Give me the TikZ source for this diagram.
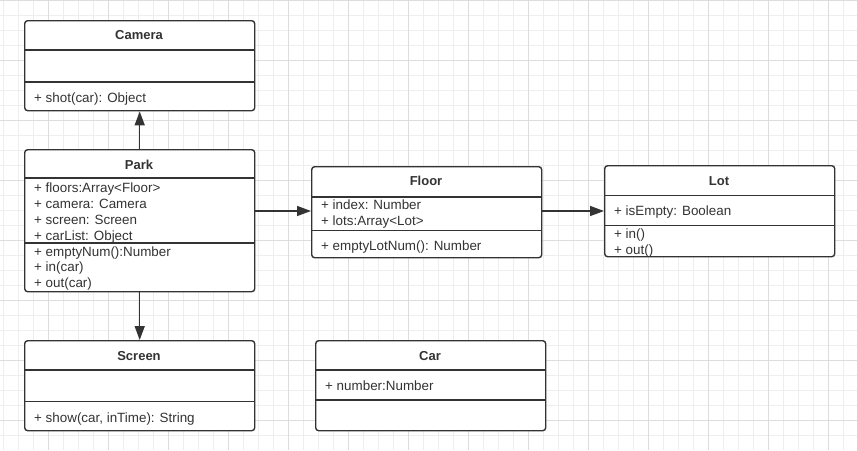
\documentclass[tikz,border=0pt]{standalone}
\usepackage{fontspec}
\setmainfont{Liberation Sans}
\usetikzlibrary{arrows.meta}
\definecolor{ink}{HTML}{333333}
\definecolor{gridminor}{HTML}{EEEEEE}
\definecolor{gridmajor}{HTML}{DDDDDD}
\tikzset{
  cls/.style={draw=ink, line width=1.4pt, rounded corners=3pt, fill=white, inner sep=0pt, anchor=north west},
  divline/.style={draw=ink, line width=1.4pt},
  ttl/.style={font=\fontsize{13}{15}\selectfont\bfseries, text=ink, inner sep=0pt, anchor=base},
  mem/.style={font=\fontsize{13.4}{16}\selectfont, text=ink, inner sep=0pt, anchor=base west},
  conn/.style={draw=ink, line width=1.5pt, -{Triangle[length=14pt,width=10pt]}},
}
\begin{document}
\begin{tikzpicture}[x=1pt,y=-1pt]
\useasboundingbox (0,0) rectangle (857,450);
\fill[white] (0,0) rectangle (857,450);
% grid
\foreach \gx in {3,18,...,857} \draw[gridminor, line width=0.8pt] (\gx,0) -- (\gx,450);
\foreach \gy in {0.5,15.5,...,450} \draw[gridminor, line width=0.8pt] (0,\gy) -- (857,\gy);
\foreach \gx in {48,108,...,857} \draw[gridmajor, line width=0.9pt] (\gx,0) -- (\gx,450);
\foreach \gy in {0.5,60.5,...,450} \draw[gridmajor, line width=0.9pt] (0,\gy) -- (857,\gy);

% Camera
\node[cls, minimum width=230pt, minimum height=90pt] (camera) at (24,20) {};
\draw[divline] (24,50) -- (254,50);
\draw[divline] (24,82) -- (254,82);
\node[ttl] (cameraT) at (139,39.7) {Camera};
\node[mem] (cameraM1) at (34,102) {+ shot(car): Object};

% Park
\node[cls, minimum width=230pt, minimum height=142pt] (park) at (24,149) {};
\draw[divline] (24,178) -- (254,178);
\draw[divline] (24,243) -- (254,243);
\node[ttl] (parkT) at (139,169) {Park};
\node[mem] (parkA1) at (34,192.5) {+ floors:Array<Floor>};
\node[mem] (parkA2) at (34,208) {+ camera: Camera};
\node[mem] (parkA3) at (34,224) {+ screen: Screen};
\node[mem] (parkA4) at (34,240) {+ carList: Object};
\node[mem] (parkM1) at (34,256) {+ emptyNum():Number};
\node[mem] (parkM2) at (34,271.8) {+ in(car)};
\node[mem] (parkM3) at (34,287.5) {+ out(car)};

% Floor
\node[cls, minimum width=230pt, minimum height=91pt] (floor) at (311,166) {};
\draw[divline] (311,197) -- (541,197);
\draw[divline] (311,230.3) -- (541,230.3);
\node[ttl] (floorT) at (426,185.7) {Floor};
\node[mem] (floorA1) at (321,209.5) {+ index: Number};
\node[mem] (floorA2) at (321,225) {+ lots:Array<Lot>};
\node[mem] (floorM1) at (321,250) {+ emptyLotNum(): Number};

% Lot
\node[cls, minimum width=230pt, minimum height=91pt] (lot) at (604,165) {};
\draw[divline] (604,195.7) -- (834,195.7);
\draw[divline] (604,225.3) -- (834,225.3);
\node[ttl] (lotT) at (719,185.4) {Lot};
\node[mem] (lotA1) at (614,215) {+ isEmpty: Boolean};
\node[mem] (lotM1) at (614,238.4) {+ in()};
\node[mem] (lotM2) at (614,254.4) {+ out()};

% Screen
\node[cls, minimum width=230pt, minimum height=90pt] (screen) at (24,340) {};
\draw[divline] (24,370) -- (254,370);
\draw[divline] (24,401.7) -- (254,401.7);
\node[ttl] (screenT) at (139,360.4) {Screen};
\node[mem] (screenM1) at (34,422) {+ show(car, inTime): String};

% Car
\node[cls, minimum width=230pt, minimum height=90pt] (car) at (315,340) {};
\draw[divline] (315,370) -- (545,370);
\draw[divline] (315,400) -- (545,400);
\node[ttl] (carT) at (430,360.4) {Car};
\node[mem] (carA1) at (325,390) {+ number:Number};

% connectors
\draw[conn] (park.north) -- (camera.south);
\draw[conn] (park.south) -- (screen.north);
\draw[conn] (park.east |- 0,211) -- (floor.west |- 0,211);
\draw[conn] (floor.east |- 0,211) -- (lot.west |- 0,211);
\end{tikzpicture}
\end{document}
